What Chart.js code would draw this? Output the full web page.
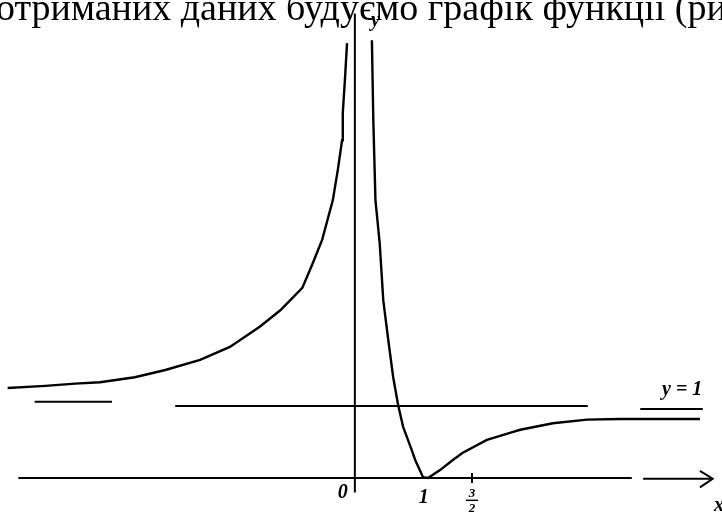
<!DOCTYPE html>
<html>
<head>
<meta charset="utf-8">
<script src="https://cdn.jsdelivr.net/npm/chart.js@4.4.1/dist/chart.umd.min.js"></script>
<style>
  html, body { margin: 0; padding: 0; background: #fff; }
  #wrap { position: relative; width: 722px; height: 515px; overflow: hidden; }
  #grafik { position: absolute; left: 0; top: 0; }
  .ryadok {
    position: absolute; left: -4px; top: -12px;
    font-family: "Liberation Serif", "Times New Roman", serif;
    font-size: 38px; line-height: 38px; white-space: nowrap; color: #000;
  }
</style>
</head>
<body>
<div id="wrap">
  <canvas id="grafik" width="722" height="515"></canvas>
  <div class="ryadok">отриманих даних будуємо графік функції (рис. 5)</div>
</div>
<script>
// ліва гілка (x < 0)
const livaX = [-4.92, -4.39, -3.97, -3.62, -3.13, -2.70, -2.21, -1.79, -1.37, -1.08, -0.77, -0.62, -0.49, -0.34, -0.27, -0.21, -0.20, -0.17, -0.14];
const livaY = [1.25, 1.28, 1.31, 1.33, 1.40, 1.50, 1.64, 1.82, 2.10, 2.33, 2.64, 2.99, 3.31, 3.86, 4.28, 4.69, 5.07, 5.53, 6.04];

// права гілка (x > 0)
const pravaX = [0.21, 0.23, 0.26, 0.32, 0.37, 0.44, 0.51, 0.58, 0.65, 0.77, 0.82, 0.93, 1.00, 1.17, 1.35, 1.49, 1.83, 2.20, 2.30, 2.76, 3.24, 3.70, 4.83];
const pravaY = [6.08, 4.97, 3.86, 3.26, 2.47, 1.92, 1.40, 1.01, 0.71, 0.39, 0.25, 0.01, 0.00, 0.11, 0.25, 0.35, 0.53, 0.64, 0.67, 0.76, 0.81, 0.82, 0.82];

// асимптота y = 1 (шматками, як на скані)
const asymptota = [
  [[-4.54, 1.06], [-3.45, 1.06]],
  [[-2.56, 1.0], [3.25, 1.0]],
  [[3.99, 0.96], [4.87, 0.96]]
];

// осі
const vissX = [[[-4.77, 0], [3.87, 0]], [[4.03, -0.01], [5.01, -0.01]]];
const strilka = [[4.83, 0.10], [5.01, -0.01], [4.83, -0.13]];
const vissY = [[-0.03, -0.2], [-0.03, 6.45]];
const podilka = [[1.62, 0.07], [1.62, -0.07]];

// підписи
const pidpysy = [
  { t: '0', x: -0.2, y: -0.2 },
  { t: '1', x: 0.94, y: -0.27 },
  { t: 'y', x: 0.26, y: 6.35 },
  { t: 'x', x: 5.1, y: -0.38 },
  { t: 'y = 1', x: 4.58, y: 1.23 }
];

function toPts(xs, ys) {
  return xs.map((x, i) => ({ x: x, y: ys[i] }));
}
function seg(pairs) {
  return pairs.map(p => ({ x: p[0], y: p[1] }));
}

const datasets = [];
function addLine(data, width) {
  datasets.push({
    data: data,
    showLine: true,
    borderColor: '#000',
    borderWidth: width,
    pointRadius: 0,
    tension: 0,
    fill: false
  });
}

addLine(toPts(livaX, livaY), 2.4);
addLine(toPts(pravaX, pravaY), 2.4);
asymptota.forEach(s => addLine(seg(s), 2));
vissX.forEach(s => addLine(seg(s), 2));
addLine(seg(strilka), 2);
addLine(seg(vissY), 2);
addLine(seg(podilka), 2);

const pidpysyPlugin = {
  id: 'pidpysy',
  afterDraw(chart) {
    const ctx = chart.ctx;
    const sx = chart.scales.x, sy = chart.scales.y;
    ctx.save();
    ctx.fillStyle = '#000';
    ctx.font = 'italic bold 20px "Liberation Serif", serif';
    ctx.textAlign = 'center';
    ctx.textBaseline = 'middle';
    pidpysy.forEach(p => {
      ctx.fillText(p.t, sx.getPixelForValue(p.x), sy.getPixelForValue(p.y));
    });
    // дріб 3/2 під поділкою
    const fx = sx.getPixelForValue(1.62), fy = sy.getPixelForValue(-0.31);
    ctx.font = 'italic bold 13px "Liberation Serif", serif';
    ctx.fillText('3', fx, fy - 7);
    ctx.fillText('2', fx, fy + 8);
    ctx.lineWidth = 1.5;
    ctx.strokeStyle = '#000';
    ctx.beginPath();
    ctx.moveTo(fx - 6, fy);
    ctx.lineTo(fx + 6, fy);
    ctx.stroke();
    ctx.restore();
  }
};

new Chart(document.getElementById('grafik').getContext('2d'), {
  type: 'scatter',
  data: { datasets: datasets },
  options: {
    responsive: false,
    animation: false,
    layout: { padding: 0 },
    scales: {
      x: { type: 'linear', display: false, min: -5.028, max: 5.141 },
      y: { type: 'linear', display: false, min: -0.514, max: 6.639 }
    },
    plugins: {
      legend: { display: false },
      tooltip: { enabled: false }
    }
  },
  plugins: [pidpysyPlugin]
});
</script>
</body>
</html>
